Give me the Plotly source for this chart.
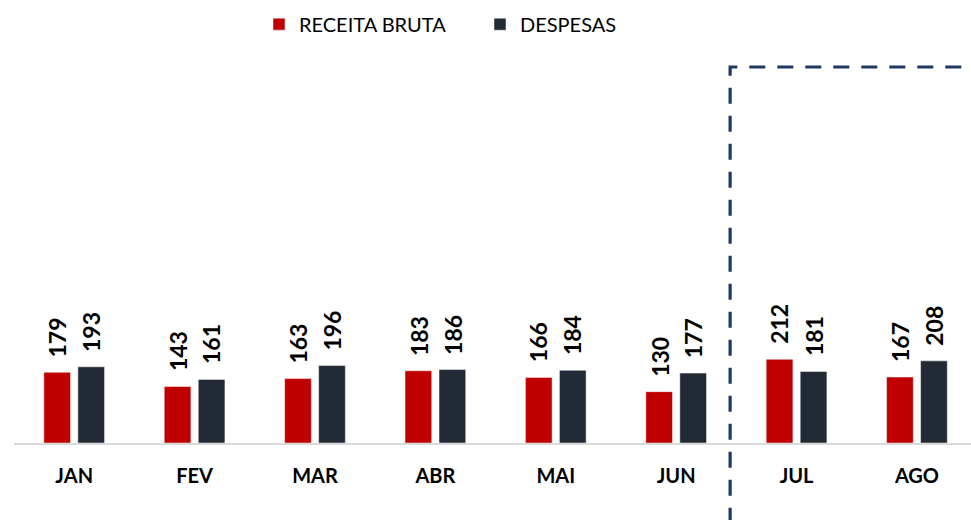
import plotly.graph_objects as go

meses = ["JAN", "FEV", "MAR", "ABR", "MAI", "JUN", "JUL", "AGO"]
receita_bruta = [179, 143, 163, 183, 166, 130, 212, 167]
despesas = [193, 161, 196, 186, 184, 177, 181, 208]

COR_RECEITA = "#C00000"
COR_DESPESAS = "#222A35"
FONT = "Lato"

fig = go.Figure()
fig.add_trace(go.Bar(
    x=meses, y=receita_bruta, name="RECEITA BRUTA",
    marker=dict(color=COR_RECEITA, line=dict(color="rgba(255,255,255,0.6)", width=0.8)),
    hoverinfo="x+y",
))
fig.add_trace(go.Bar(
    x=meses, y=despesas, name="DESPESAS",
    marker=dict(color=COR_DESPESAS, line=dict(color="rgba(255,255,255,0.6)", width=0.8)),
    hoverinfo="x+y",
))

annotations = []
for serie, shift in ((receita_bruta, -17), (despesas, 17)):
    for m, v in zip(meses, serie):
        annotations.append(dict(
            x=m, y=v, xref="x", yref="y", text=str(v), showarrow=False,
            textangle=-90, yanchor="bottom", xanchor="center",
            xshift=shift, yshift=13,
            font=dict(family=FONT, size=23, color="#000000", weight="bold"),
        ))

xv = 0.7483
fig.add_shape(type="path", xref="paper", yref="paper",
              path=f"M {xv},-0.215 L {xv},1 L 1.01,1",
              line=dict(color="#203864", width=3.2, dash="16px,12px"))

fig.update_layout(
    width=971, height=520,
    margin=dict(l=13.5, r=0, t=67, b=77, autoexpand=False),
    paper_bgcolor="white", plot_bgcolor="white",
    barmode="group", bargap=0.435, bargroupgap=0.215,
    showlegend=True,
    legend=dict(orientation="h", x=0.256, xanchor="left", y=1.114, yanchor="middle",
                font=dict(family=FONT, size=20, color="#000000"),
                entrywidth=176, entrywidthmode="pixels", traceorder="normal"),
    annotations=annotations,
    font=dict(family=FONT),
)
fig.update_xaxes(
    range=[-0.5, 7.449], showline=True, linecolor="#D9D9D9", linewidth=2,
    ticks="outside", ticklen=14, tickcolor="rgba(0,0,0,0)",
    tickfont=dict(family=FONT, size=20, color="#000000", weight="bold"),
    showgrid=False, zeroline=False,
)
fig.update_yaxes(range=[0, 952], visible=False, showgrid=False, zeroline=False)

fig.write_html("out.html", config={"displayModeBar": False},
               post_script="document.body.style.margin='0';")
